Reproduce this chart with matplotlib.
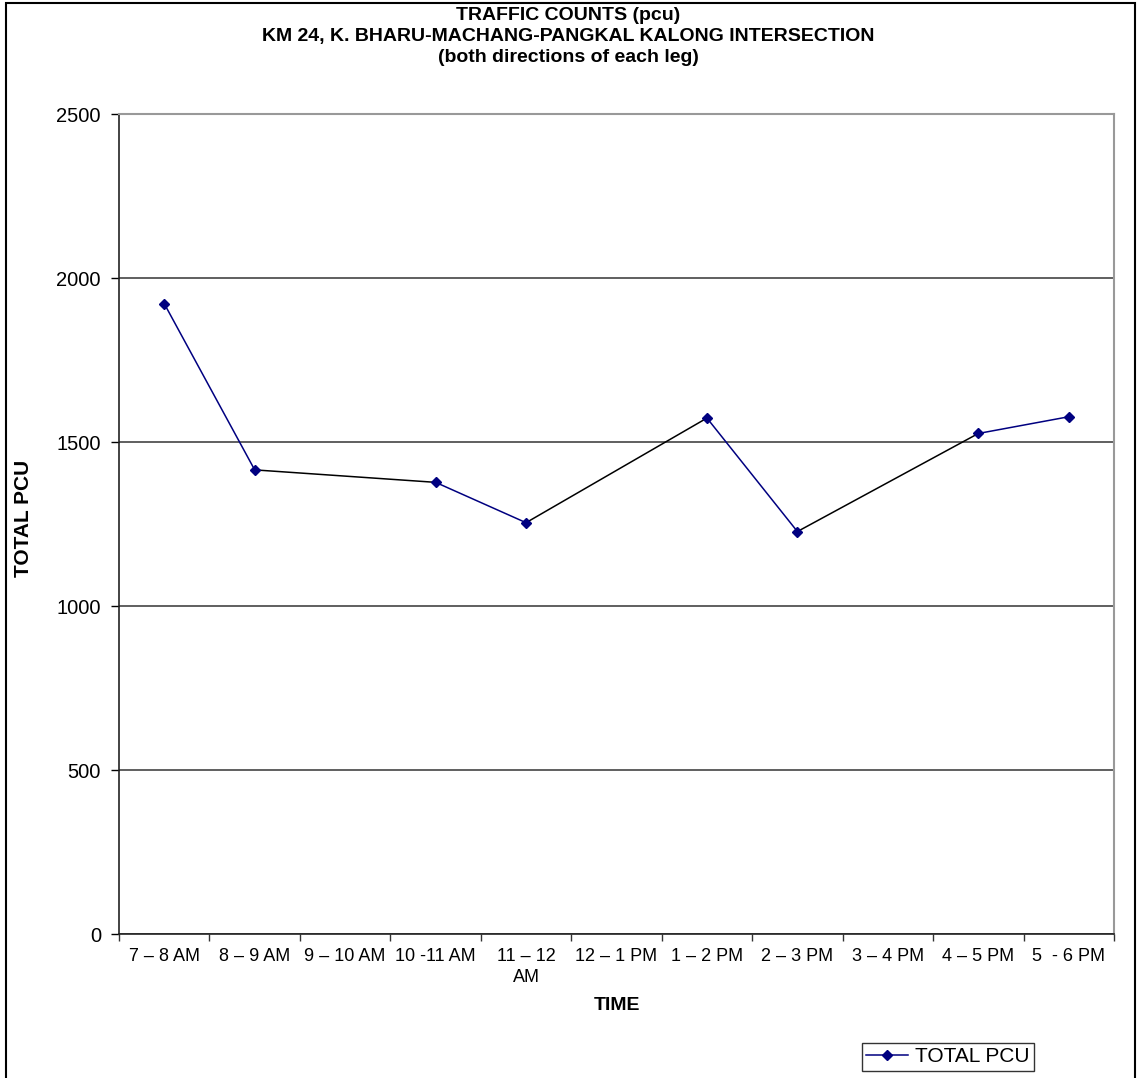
import matplotlib
matplotlib.use("Agg")
import matplotlib.pyplot as plt
from matplotlib.lines import Line2D
from matplotlib.patches import Rectangle

plt.rcParams['font.family'] = ['Liberation Sans', 'DejaVu Sans']

# Hourly periods and total PCU counts (no count taken for some periods)
periods = ["7 – 8 AM", "8 – 9 AM", "9 – 10 AM", "10 -11 AM", "11 – 12\nAM",
           "12 – 1 PM", "1 – 2 PM", "2 – 3 PM", "3 – 4 PM", "4 – 5 PM", "5  - 6 PM"]
total_pcu = [1922, 1415, None, 1377, 1254, None, 1573, 1227, None, 1526, 1577]
y_ticks = [0, 500, 1000, 1500, 2000, 2500]

title_lines = ["TRAFFIC COUNTS (pcu)",
               "KM 24, K. BHARU-MACHANG-PANGKAL KALONG INTERSECTION",
               "(both directions of each leg)"]

W, H = 1137, 1078
fig = plt.figure(figsize=(W / 100, H / 100), dpi=100)
fig.patch.set_facecolor("white")

# Outer chart border
fig.add_artist(Rectangle((6 / W, -0.01), (1135 - 6) / W, (H - 3) / H + 0.01,
                         transform=fig.transFigure, fill=False,
                         edgecolor="black", linewidth=1.5))

left, right, top, bottom = 119, 1114, 114, 934
ax = fig.add_axes([left / W, 1 - bottom / H, (right - left) / W, (bottom - top) / H])

navy = "#000080"
pts = [(i, v) for i, v in enumerate(total_pcu) if v is not None]
for (i0, v0), (i1, v1) in zip(pts[:-1], pts[1:]):
    # consecutive periods are joined in the series colour, gaps bridged in black
    color = navy if i1 - i0 == 1 else "black"
    ax.plot([i0, i1], [v0, v1], color=color, linewidth=1.1, zorder=3)
ax.plot([p[0] for p in pts], [p[1] for p in pts], linestyle="none",
        marker="D", markersize=5.5, color=navy, zorder=4)

ax.set_xlim(-0.5, len(periods) - 0.5)
ax.set_ylim(0, 2500)
ax.set_yticks(y_ticks)
ax.set_yticklabels([str(t) for t in y_ticks], fontsize=14.5)
ax.yaxis.grid(True, color="#444444", linewidth=1.2)
ax.set_axisbelow(True)

ax.set_xticks(range(len(periods)))
ax.set_xticklabels(periods, fontsize=13, linespacing=1.3)
ax.set_xticks([i - 0.5 for i in range(len(periods) + 1)], minor=True)
ax.tick_params(axis="x", which="major", length=0, pad=10)
ax.tick_params(axis="x", which="minor", length=5, width=1, color="#333333", direction="out")
ax.tick_params(axis="y", length=6, width=1, direction="out", pad=7)

for s in ("left", "bottom"):
    ax.spines[s].set_color("#222222")
    ax.spines[s].set_linewidth(1.2)
for s in ("top", "right"):
    ax.spines[s].set_color("#999999")
    ax.spines[s].set_linewidth(1.5)

fig.text((left + right) / 2 / W, 1 - 1006 / H, "TIME", ha="center", va="center",
         fontsize=14, fontweight="bold")
fig.text(24 / W, 1 - 518 / H, "TOTAL PCU", ha="center", va="center",
         rotation=90, fontsize=15, fontweight="bold")

for line, yc in zip(title_lines, [15, 36, 57]):
    fig.text(0.5, 1 - yc / H, line, ha="center", va="center",
             fontsize=14, fontweight="bold")

handle = Line2D([], [], color=navy, marker="D", markersize=5.5, linewidth=1.1)
leg = fig.legend([handle], ["TOTAL PCU"], loc="center",
                 bbox_to_anchor=(948 / W, 1 - 1057 / H), fontsize=15,
                 frameon=True, fancybox=False, edgecolor="black",
                 handlelength=2.0, borderpad=0.2, handletextpad=0.35,
                 borderaxespad=0)
leg.get_frame().set_linewidth(1.0)

fig.savefig("out.png", dpi=100, facecolor="white")
